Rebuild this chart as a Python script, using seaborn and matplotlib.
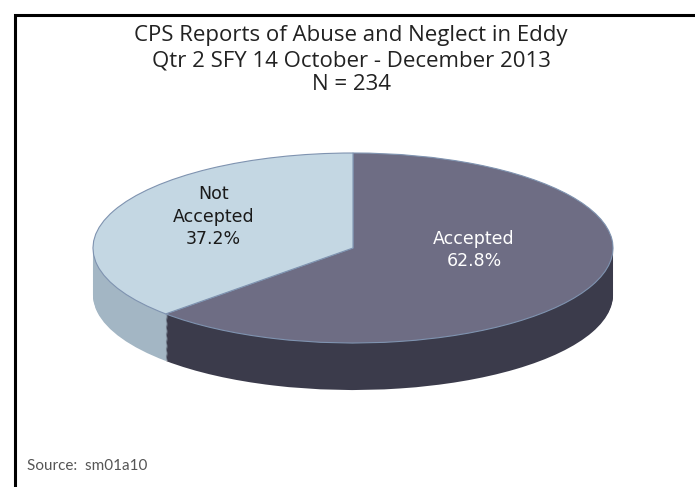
import matplotlib
matplotlib.use("Agg")
import matplotlib.pyplot as plt
import seaborn as sns
import numpy as np

# Data
categories = ["Accepted", "Not Accepted"]
shares = [62.8, 37.2]
n_total = 234
title_lines = ["CPS Reports of Abuse and Neglect in Eddy",
               "Qtr 2 SFY 14 October - December 2013",
               f"N = {n_total}"]
source_note = "Source:  sm01a10"

sns.set_theme(style="white")
plt.rcParams['font.family'] = ['Open Sans', 'DejaVu Sans']

top_colors = sns.color_palette(["#6e6d84", "#c4d7e3"])
side_colors = sns.color_palette(["#3b3b4b", "#a3b6c4"])

fig = plt.figure(figsize=(6.95, 4.87), dpi=100)
fig.patch.set_facecolor("white")

# frame round the chart area (right and bottom run off the picture)
frame = plt.Rectangle((14.5 / 695, -0.2), 1.0, 1 - 14.5 / 487 + 0.2,
                      transform=fig.transFigure, fill=False,
                      edgecolor="black", linewidth=2.2)
fig.patches.append(frame)

# axes placed so that a unit pie becomes the flattened ellipse
ax = fig.add_axes([60 / 695, (487 - 420) / 487, 586 / 695, 290 / 487])
depth = 0.495

# side of the disc: stack of pies shifted down
for d in np.linspace(depth, 0.02, 40):
    ax.pie(shares, colors=side_colors, startangle=90, counterclock=False,
           center=(0, -d), radius=1.0, wedgeprops=dict(linewidth=0))

# top face
wedges, _ = ax.pie(shares, colors=top_colors, startangle=90, counterclock=False,
                   center=(0, 0), radius=1.0,
                   wedgeprops=dict(linewidth=0.8, edgecolor="#7f93b0"))

ax.set_aspect("auto")
ax.set_xlim(-1.1269, 1.1269)
ax.set_ylim(-1.8105, 1.242)
ax.axis("off")

# slice labels
label_pos = [(0.466, -0.02, "white"), (-0.536, 0.33, "#1a1a1a")]
for (x, y, c), name, pct in zip(label_pos, categories, shares):
    text = name.replace("Not ", "Not\n") + f"\n{pct:.1f}%"
    ax.text(x, y, text, ha="center", va="center", color=c, fontsize=12.5,
            family="DejaVu Sans", linespacing=1.3)

# title
for i, line in enumerate(title_lines):
    fig.text(351 / 695, 1 - (36 + 24.5 * i) / 487, line, ha="center", va="center",
             fontsize=16, color="#222222")

fig.text(27 / 695, 1 - 466 / 487, source_note, ha="left", va="center",
         fontsize=11, color="#555555", family="Lato")

fig.savefig("out.png", dpi=100)
